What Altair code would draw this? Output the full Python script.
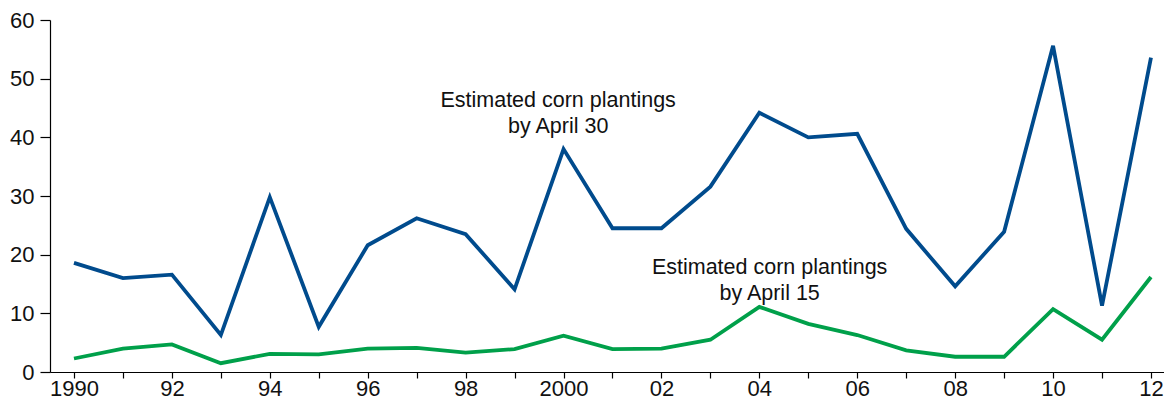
import pandas as pd
import altair as alt


# ── Data ───────────────────────────────────────────────────────────────────────

YEARS = list(range(1990, 2013))

APRIL_30 = [18.6, 16.0, 16.6, 6.3, 29.8, 7.7, 21.6, 26.2, 23.5, 14.1, 38.0, 24.5,
            24.5, 31.6, 44.2, 40.0, 40.6, 24.4, 14.6, 23.9, 55.6, 11.3, 53.6]

APRIL_15 = [2.3, 4.0, 4.7, 1.5, 3.1, 3.0, 4.0, 4.1, 3.3, 3.9, 6.2, 3.9,
            4.0, 5.5, 11.1, 8.2, 6.3, 3.7, 2.6, 2.6, 10.7, 5.5, 16.2]

YEAR_LABELS = ['1990', '', '92', '', '94', '', '96', '', '98', '', '2000', '',
               '02', '', '04', '', '06', '', '08', '', '10', '', '12']

Y_TICKS = [0, 10, 20, 30, 40, 50, 60]

SERIES = ['April 30', 'April 15']
COLORS = ['#004b8d', '#00a04a']

NOTE_TEXT = [['Estimated corn plantings', 'by April 30'],
             ['Estimated corn plantings', 'by April 15']]
NOTE_YEAR = [1999.89, 2004.21]
NOTE_VALUE = [46.2, 17.7]

FONT = 'Liberation Sans'


# ── Frames ─────────────────────────────────────────────────────────────────────

lines_df = pd.concat([
    pd.DataFrame({'year': YEARS, 'value': APRIL_30, 'series': SERIES[0]}),
    pd.DataFrame({'year': YEARS, 'value': APRIL_15, 'series': SERIES[1]}),
], ignore_index=True)

notes_df = pd.DataFrame({'year': NOTE_YEAR, 'value': NOTE_VALUE, 'text': NOTE_TEXT})


# ── Chart ──────────────────────────────────────────────────────────────────────

label_expr = (
    '[' + ','.join(f"'{s}'" for s in YEAR_LABELS) + ']'
    '[indexof([' + ','.join(str(y) for y in YEARS) + '], datum.value)]'
)

x = alt.X(
    'year:Q',
    title=None,
    scale=alt.Scale(domain=[1989.51, 2012.266], nice=False, zero=False),
    axis=alt.Axis(values=YEARS, labelExpr=label_expr, grid=False,
                  tickSize=6, labelPadding=0, labelFontSize=22,
                  labelFlush=False, labelOverlap=False),
)
y = alt.Y(
    'value:Q',
    title=None,
    scale=alt.Scale(domain=[0, 60], nice=False),
    axis=alt.Axis(values=Y_TICKS, grid=False, tickSize=10, labelPadding=6,
                  labelFontSize=22, labelFlush=False),
)

lines = alt.Chart(lines_df).mark_line(strokeWidth=3.8).encode(
    x=x,
    y=y,
    color=alt.Color('series:N', scale=alt.Scale(domain=SERIES, range=COLORS),
                    legend=None),
)

notes = alt.Chart(notes_df).mark_text(
    font=FONT, fontSize=21.5, lineHeight=26, align='center', baseline='middle',
    color='#111111',
).encode(x='year:Q', y='value:Q', text='text')

chart = (
    (lines + notes)
    .properties(width=1114, height=352,
                autosize=alt.AutoSizeParams(type='none'),
                padding={'left': 42, 'top': 12, 'right': 0, 'bottom': 32})
    .configure_view(stroke=None)
    .configure_axis(domainColor='black', tickColor='black', labelColor='#111111',
                    labelFont=FONT, domainWidth=1.2, tickWidth=1.2)
)

chart.save('out.html', embed_options={'renderer': 'svg', 'actions': False})
